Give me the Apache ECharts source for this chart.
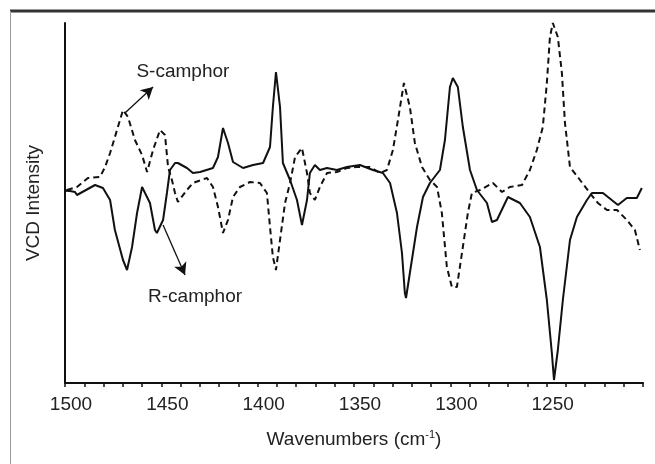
<!DOCTYPE html>
<html>
<head>
<meta charset="utf-8">
<script src="https://cdn.jsdelivr.net/npm/echarts@6/dist/echarts.min.js"></script>
<style>html,body{margin:0;padding:0;background:#fff;}#c{width:655px;height:464px;}</style>
</head>
<body>
<div id="c"></div>
<script>
// Wavenumber ticks
const xTicks = [1500, 1450, 1400, 1350, 1300, 1250, 1200];

// R-camphor (solid)
const rWave = [1500,1494.8,1493.8,1484.4,1480.3,1476.6,1474.1,1469.9,1467.8,1465.2,1462.6,1460.0,1459.5,1455.9,1453.3,1452.3,1449.1,1447.1,1445.5,1442.9,1441.4,1436.7,1433.6,1429.9,1423.2,1420.6,1418.0,1415.4,1412.8,1407.6,1402.4,1397.2,1393.6,1392.1,1390.5,1388.4,1386.9,1383.2,1379.6,1377.0,1374.4,1372.9,1370.3,1367.7,1364.0,1358.9,1353.7,1346.9,1340.2,1335.0,1331.3,1327.7,1325.1,1323.6,1323.0,1321.0,1317.3,1314.2,1310.6,1305.4,1302.8,1300.2,1298.7,1296.1,1293.5,1289.8,1286.2,1281.0,1278.4,1275.8,1270.1,1263.9,1258.7,1253.5,1249.9,1247.3,1246.2,1244.2,1241.6,1237.9,1234.3,1229.1,1226.5,1220.8,1213.0,1208.4,1203.2,1200.6];
const rVal  = [1,-1,-4,6,3,-9,-39,-69,-79,-56,-22,4,6,-12,-39,-42,-29,-2,21,28,28,23,18,19,23,34,63,48,29,23,26,28,44,84,119,84,28,11,-9,-34,-9,18,26,21,23,21,24,26,21,18,8,-22,-62,-102,-107,-82,-36,-6,8,21,51,104,113,104,64,21,1,-12,-31,-29,-6,-12,-26,-56,-109,-162,-189,-159,-109,-49,-26,-9,-2,-2,-14,-7,-7,3];

// S-camphor (dashed)
const sWave = [1499.0,1493.8,1488.1,1481.8,1479.2,1476.6,1473.0,1469.9,1467.3,1463.7,1460.0,1457.4,1454.3,1450.7,1448.1,1446.5,1444.5,1442.9,1441.4,1436.7,1433.6,1426.3,1423.2,1420.6,1418.0,1415.4,1412.8,1409.2,1404.0,1398.8,1395.2,1393.6,1392.1,1390.5,1388.4,1385.8,1383.2,1380.6,1377.0,1374.4,1372.9,1370.3,1367.7,1364.0,1358.9,1353.7,1348.5,1341.7,1336.5,1332.9,1329.8,1327.2,1324.1,1321.0,1318.4,1314.7,1310.6,1306.9,1304.4,1301.8,1299.2,1296.6,1293.5,1290.9,1288.8,1284.6,1277.9,1273.2,1269.1,1262.8,1258.7,1255.1,1252.0,1249.9,1248.3,1246.8,1244.2,1242.1,1240.5,1237.9,1232.7,1227.6,1223.4,1218.7,1213.5,1208.4,1204.2,1201.6];
const sVal  = [1,4,13,14,24,38,61,81,74,51,36,19,41,61,56,24,11,-2,-11,1,8,13,4,-16,-42,-29,-6,4,9,8,-2,-36,-66,-79,-49,-12,8,34,43,18,-2,-9,4,18,19,23,24,24,18,21,41,71,108,84,48,24,11,4,-22,-76,-96,-96,-56,-22,-2,1,8,-1,4,6,21,41,64,108,154,168,154,118,68,24,11,-2,-12,-19,-19,-29,-39,-59];

// Annotation anchors (data coords)
const sLabel = {text: 'S-camphor', at: [1438.8, 119], from: [1468.9, 78], to: [1454.3, 104]};
const rLabel = {text: 'R-camphor', at: [1432.5, -106], from: [1449.1, -34], to: [1437.7, -84]};

const chart = echarts.init(document.getElementById('c'), null, {renderer: 'canvas'});
const font = 'Liberation Sans, Arial, Helvetica, sans-serif';
const toPairs = (w, v) => w.map((x, i) => [x, v[i]]);

chart.setOption({
  animation: false,
  backgroundColor: '#fff',
  grid: {left: 65, right: 12, top: 23, bottom: 81},
  xAxis: {
    type: 'value', inverse: true, min: 1200, max: 1500, interval: 50,
    axisLine: {show: true, onZero: false, lineStyle: {color: '#111', width: 2}},
    axisTick: {show: true, length: 4, lineStyle: {color: '#111', width: 1.5}},
    minorTick: {show: true, splitNumber: 5, length: 4, lineStyle: {color: '#111', width: 1.5}},
    splitLine: {show: false},
    axisLabel: {
      margin: 12, color: '#222', fontSize: 19, fontFamily: font, padding: [0, 0, 0, 12],
      formatter: v => (xTicks.indexOf(v) >= 0 && v !== 1200) ? String(v) : ''
    },
    name: '{a|Wavenumbers (cm}{s|-1}{a|)}',
    nameLocation: 'middle', nameGap: 46,
    nameTextStyle: {
      rich: {
        a: {fontSize: 19, fontFamily: font, color: '#222', lineHeight: 22},
        s: {fontSize: 11, fontFamily: font, color: '#222', verticalAlign: 'top', lineHeight: 22, padding: [0, 0, 8, 0]}
      }
    }
  },
  yAxis: {
    type: 'value', min: -192, max: 168,
    axisLine: {show: true, onZero: false, lineStyle: {color: '#111', width: 2}},
    axisTick: {show: true, inside: true, length: 5, customValues: [0], lineStyle: {color: '#111', width: 1.5}},
    axisLabel: {show: false},
    splitLine: {show: false},
    name: 'VCD Intensity', nameLocation: 'middle', nameGap: 22,
    nameTextStyle: {fontSize: 19, fontFamily: font, color: '#222'}
  },
  series: [
    {
      name: 'R-camphor', type: 'line', showSymbol: false, data: toPairs(rWave, rVal),
      lineStyle: {color: '#111', width: 2},
      markLine: {
        silent: true, symbol: ['none', 'arrow'], symbolSize: [10, 12],
        label: {show: false},
        lineStyle: {color: '#111', width: 1.3, type: 'solid'},
        data: [
          [{coord: sLabel.from}, {coord: sLabel.to}],
          [{coord: rLabel.from}, {coord: rLabel.to}]
        ]
      },
      markPoint: {
        symbol: 'circle', symbolSize: 0, silent: true,
        label: {show: true, position: 'inside', color: '#222', fontSize: 19, fontFamily: font, formatter: p => p.name},
        data: [
          {name: sLabel.text, coord: sLabel.at},
          {name: rLabel.text, coord: rLabel.at}
        ]
      }
    },
    {
      name: 'S-camphor', type: 'line', showSymbol: false, data: toPairs(sWave, sVal),
      lineStyle: {color: '#111', width: 2, type: [6, 4]}
    }
  ],
  graphic: [
    {type: 'line', shape: {x1: 10, y1: 11, x2: 655, y2: 11}, style: {stroke: '#333', lineWidth: 3}},
    {type: 'line', shape: {x1: 10.5, y1: 11, x2: 10.5, y2: 464}, style: {stroke: '#999', lineWidth: 1}}
  ]
});
</script>
</body>
</html>
